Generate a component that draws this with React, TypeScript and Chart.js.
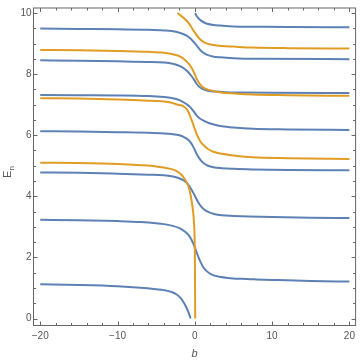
import React, { useEffect, useRef } from "react";
import { Chart, registerables } from "chart.js";

Chart.register(...registerables);

// ---- axis ticks ----
const xTicks = [-20, -10, 0, 10, 20];
const yTicks = [0, 2, 4, 6, 8, 10];
const xMinorStep = 2;
const yMinorStep = 0.5;
const xTitle = "b";
const yTitleMain = "E";
const yTitleSub = "n";

// ---- curves (b, E) ----
const blue1 = [[-20,1.12],[-15,1.1],[-10,1.06],[-7,1.01],[-5,0.96],[-4,0.93],[-3,0.87],[-2.3,0.78],[-1.8,0.66],[-1.5,0.55],[-1.2,0.42],[-0.9,0.25],[-0.7,0.12],[-0.55,0]];
const blue2 = [[-20,3.23],[-15,3.22],[-10,3.19],[-7,3.16],[-5,3.12],[-4,3.09],[-3,3.04],[-2,2.96],[-1.3,2.85],[-0.8,2.73],[-0.4,2.56],[0,2.33],[0.3,2.12],[0.7,1.87],[1.1,1.68],[1.5,1.56],[2.2,1.44],[3.2,1.37],[4.3,1.33],[6,1.3],[8,1.28],[10.7,1.26],[15,1.23],[20,1.21]];
const blue3 = [[-20,4.78],[-15,4.77],[-10,4.74],[-6,4.71],[-4,4.69],[-3,4.66],[-2.2,4.61],[-1.5,4.53],[-1,4.43],[-0.5,4.25],[0,4.02],[0.4,3.82],[0.8,3.67],[1.2,3.57],[1.8,3.48],[2.5,3.42],[3.5,3.38],[5,3.36],[7,3.34],[10,3.32],[15,3.3],[20,3.29]];
const blue4 = [[-20,6.13],[-15,6.12],[-10,6.1],[-6,6.08],[-4,6.06],[-3,6.04],[-2,6.0],[-1.4,5.94],[-0.9,5.86],[-0.5,5.75],[-0.1,5.57],[0.3,5.36],[0.7,5.2],[1.15,5.08],[1.7,5.0],[2.4,4.95],[3.5,4.92],[5,4.9],[7.5,4.88],[12,4.86],[20,4.85]];
const blue5 = [[-20,7.32],[-15,7.31],[-10,7.3],[-6,7.28],[-4,7.25],[-3,7.22],[-2.2,7.17],[-1.6,7.1],[-1.1,7.02],[-0.6,6.92],[-0.2,6.8],[0.2,6.66],[0.7,6.54],[1.2,6.47],[1.8,6.4],[2.6,6.34],[3.5,6.29],[5,6.25],[7.5,6.21],[12,6.19],[20,6.17]];
const blue6 = [[-20,8.45],[-15,8.44],[-10,8.42],[-6,8.4],[-4,8.38],[-3,8.35],[-2.2,8.29],[-1.6,8.22],[-1,8.1],[-0.5,7.96],[-0.1,7.82],[0.3,7.66],[0.7,7.56],[1.2,7.49],[1.8,7.45],[2.6,7.43],[4,7.41],[6,7.4],[10,7.39],[20,7.38]];
const blue7 = [[-20,9.49],[-15,9.48],[-10,9.47],[-6,9.45],[-4,9.43],[-3,9.41],[-2.2,9.37],[-1.6,9.32],[-1,9.25],[-0.5,9.15],[-0.1,9.04],[0.3,8.92],[0.7,8.79],[1.1,8.7],[1.6,8.63],[2.3,8.58],[3.3,8.55],[5,8.52],[8,8.5],[20,8.49]];
const blue8 = [[0.05,10],[0.2,9.92],[0.45,9.83],[0.8,9.75],[1.2,9.69],[1.6,9.65],[2.4,9.61],[3.3,9.59],[5,9.56],[8,9.55],[12,9.54],[20,9.53]];

const orange1 = [[-20,5.1],[-15,5.09],[-10,5.06],[-7,5.02],[-5,4.98],[-4,4.94],[-3,4.89],[-2.3,4.82],[-1.8,4.72],[-1.4,4.6],[-1.0,4.43],[-0.77,4.28],[-0.55,4.05],[-0.35,3.74],[-0.2,3.45],[-0.1,3.1],[-0.04,2.8],[0,2.2],[0.02,1.5],[0.04,0.6],[0.05,0]];
const orange2 = [[-20,7.21],[-15,7.2],[-10,7.17],[-6,7.13],[-4,7.1],[-3,7.06],[-2.2,7.0],[-1.5,6.95],[-1,6.84],[-0.6,6.62],[-0.3,6.42],[0,6.2],[0.3,6.0],[0.7,5.8],[1.15,5.67],[1.7,5.55],[2.4,5.46],[3.5,5.39],[5,5.34],[7.5,5.28],[12,5.25],[20,5.22]];
const orange3 = [[-20,8.79],[-15,8.78],[-10,8.76],[-6,8.73],[-4,8.7],[-3,8.66],[-2.2,8.61],[-1.6,8.53],[-1,8.4],[-0.5,8.24],[-0.1,8.05],[0.3,7.82],[0.7,7.66],[1.1,7.56],[1.6,7.5],[2.2,7.46],[3.2,7.41],[4.6,7.37],[7.5,7.33],[12,7.31],[20,7.29]];
const orange4 = [[-2.25,10],[-1.9,9.93],[-1.4,9.83],[-0.9,9.7],[-0.5,9.56],[-0.1,9.4],[0.3,9.25],[0.7,9.13],[1.15,9.05],[1.7,8.99],[2.4,8.95],[3.5,8.92],[5,8.9],[7.5,8.87],[12,8.85],[20,8.84]];

const blueCurves = [blue1, blue2, blue3, blue4, blue5, blue6, blue7, blue8];
const orangeCurves = [orange1, orange2, orange3, orange4];

const BLUE = "rgb(94,129,181)";
const ORANGE = "rgb(225,156,36)";
const FRAME = "#666666";
const TEXT = "#555555";
const FONT = "'Liberation Sans', Arial, sans-serif";

const xRange = { min: -20.87, max: 20.8 };
const yRange = { min: -0.228, max: 10.164 };

const fmt = (v: number) => String(v).replace("-", "\u2212");

const framePlugin = {
  id: "mmaFrame",
  afterDraw(chart: any) {
    const { ctx, chartArea, scales } = chart;
    const { left, right, top, bottom } = chartArea;
    const xs = scales.x;
    const ys = scales.y;
    ctx.save();
    ctx.strokeStyle = FRAME;
    ctx.lineWidth = 1;
    ctx.strokeRect(left, top, right - left, bottom - top);
    ctx.beginPath();
    const xMinorList: number[] = [];
    for (let v = xTicks[0]; v <= xTicks[xTicks.length - 1] + 1e-9; v += xMinorStep) xMinorList.push(v);
    const yMinorList: number[] = [];
    for (let v = yTicks[0]; v <= yTicks[yTicks.length - 1] + 1e-9; v += yMinorStep) yMinorList.push(v);
    for (const v of xMinorList) {
      const major = xTicks.some((t) => Math.abs(t - v) < 1e-9);
      const len = major ? 4 : 2.5;
      const p = Math.round(xs.getPixelForValue(v)) + 0.5;
      ctx.moveTo(p, bottom);
      ctx.lineTo(p, bottom - len);
      ctx.moveTo(p, top);
      ctx.lineTo(p, top + len);
    }
    for (const v of yMinorList) {
      const major = yTicks.some((t) => Math.abs(t - v) < 1e-9);
      const len = major ? 4 : 2.5;
      const p = Math.round(ys.getPixelForValue(v)) + 0.5;
      ctx.moveTo(left, p);
      ctx.lineTo(left + len, p);
      ctx.moveTo(right, p);
      ctx.lineTo(right - len, p);
    }
    ctx.stroke();
    // y-axis title with subscript
    ctx.fillStyle = TEXT;
    ctx.translate(7, 172);
    ctx.rotate(-Math.PI / 2);
    ctx.font = `11px ${FONT}`;
    const wMain = ctx.measureText(yTitleMain).width;
    ctx.font = `8px ${FONT}`;
    const wSub = ctx.measureText(yTitleSub).width;
    const x0 = -(wMain + wSub) / 2;
    ctx.textBaseline = "alphabetic";
    ctx.textAlign = "left";
    ctx.font = `11px ${FONT}`;
    ctx.fillText(yTitleMain, x0, 4);
    ctx.font = `8px ${FONT}`;
    ctx.fillText(yTitleSub, x0 + wMain, 6.5);
    ctx.restore();
  },
};

export default function App() {
  const ref = useRef<HTMLCanvasElement | null>(null);
  useEffect(() => {
    document.body.style.margin = "0";
    if (!ref.current) return;
    const mk = (pts: number[][], color: string) => ({
      data: pts.map(([x, y]) => ({ x, y })),
      borderColor: color,
      borderWidth: 2,
      pointRadius: 0,
      showLine: true,
      fill: false,
      cubicInterpolationMode: "monotone" as const,
    });
    const datasets = [
      ...orangeCurves.map((c) => mk(c, ORANGE)),
      ...blueCurves.map((c) => mk(c, BLUE)),
    ];
    const tickFont = { family: FONT, size: 10 };
    const chart = new Chart(ref.current, {
      type: "scatter",
      data: { datasets },
      plugins: [framePlugin],
      options: {
        animation: false,
        responsive: false,
        devicePixelRatio: 1,
        layout: { padding: { top: 1.5, right: 1.5, left: 0, bottom: 0 } },
        plugins: { legend: { display: false }, tooltip: { enabled: false } },
        scales: {
          x: {
            type: "linear",
            min: xRange.min,
            max: xRange.max,
            afterBuildTicks: (s: any) => {
              s.ticks = xTicks.map((v) => ({ value: v }));
            },
            afterFit: (s: any) => {
              s.height = 35.5;
            },
            grid: { display: false, drawTicks: false },
            border: { display: false },
            ticks: { callback: (v: any) => fmt(v), font: tickFont, color: TEXT, padding: 5, maxRotation: 0 },
            title: {
              display: true,
              text: xTitle,
              color: TEXT,
              font: { family: FONT, size: 11, style: "italic" },
              padding: { top: 0, bottom: 0.5 },
            },
          },
          y: {
            type: "linear",
            min: yRange.min,
            max: yRange.max,
            afterBuildTicks: (s: any) => {
              s.ticks = yTicks.map((v) => ({ value: v }));
            },
            afterFit: (s: any) => {
              s.width = 33.5;
            },
            grid: { display: false, drawTicks: false },
            border: { display: false },
            ticks: { callback: (v: any) => fmt(v), font: tickFont, color: TEXT, padding: 2 },
            title: { display: false },
          },
        },
      },
    });
    return () => chart.destroy();
  }, []);
  return (
    <div style={{ width: 360, height: 361 }}>
      <canvas ref={ref} width={360} height={361} />
    </div>
  );
}
